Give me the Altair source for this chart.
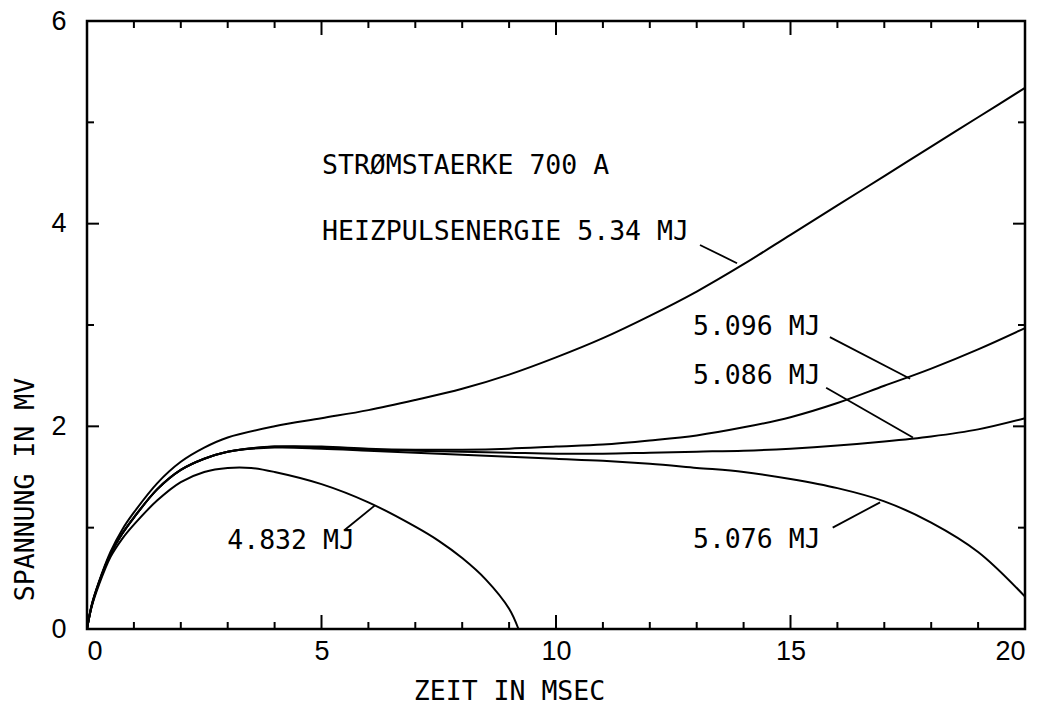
import altair as alt
import pandas as pd

# ---- data ----
X = [0, 0.1, 0.25, 0.5, 0.75, 1, 1.5, 2, 2.5, 3, 4, 5, 6, 7, 8, 9, 10, 11, 12, 13, 14, 15, 16, 17, 18, 19, 20]
E534 = [0, 0.24, 0.46, 0.76, 0.98, 1.15, 1.44, 1.65, 1.79, 1.89, 2.00, 2.08, 2.16, 2.26, 2.37, 2.51, 2.68, 2.87, 3.09, 3.33, 3.60, 3.89, 4.18, 4.47, 4.76, 5.05, 5.34]
E5096 = [0, 0.23, 0.45, 0.74, 0.94, 1.10, 1.38, 1.57, 1.68, 1.75, 1.80, 1.80, 1.78, 1.77, 1.77, 1.78, 1.80, 1.82, 1.86, 1.91, 1.99, 2.09, 2.23, 2.40, 2.57, 2.76, 2.97]
E5086 = [0, 0.23, 0.45, 0.74, 0.94, 1.10, 1.38, 1.57, 1.68, 1.75, 1.80, 1.79, 1.77, 1.76, 1.75, 1.74, 1.73, 1.73, 1.74, 1.75, 1.76, 1.78, 1.81, 1.85, 1.90, 1.97, 2.08]
E5076 = [0, 0.23, 0.45, 0.74, 0.94, 1.10, 1.38, 1.57, 1.68, 1.75, 1.79, 1.78, 1.76, 1.74, 1.72, 1.70, 1.68, 1.66, 1.63, 1.59, 1.55, 1.48, 1.39, 1.26, 1.05, 0.76, 0.32]
X4832 = [0, 0.1, 0.25, 0.5, 0.75, 1, 1.5, 2, 2.5, 3, 3.5, 4, 5, 6, 7, 7.5, 8, 8.5, 9, 9.2]
E4832 = [0, 0.22, 0.43, 0.71, 0.89, 1.03, 1.27, 1.45, 1.55, 1.59, 1.59, 1.55, 1.43, 1.25, 1.01, 0.87, 0.70, 0.49, 0.20, 0.0]

LABEL_TEXT = ["STRØMSTAERKE 700 A", "HEIZPULSENERGIE 5.34 MJ", "5.096 MJ", "5.086 MJ", "5.076 MJ", "4.832 MJ"]
LABEL_X = [5.01, 5.01, 12.92, 12.92, 12.92, 2.99]
LABEL_Y = [4.57, 3.92, 2.98, 2.50, 0.88, 0.87]

LEAD_X1 = [13.07, 15.84, 15.76, 15.90, 5.50]
LEAD_Y1 = [3.79, 2.88, 2.38, 1.00, 0.98]
LEAD_X2 = [13.86, 17.55, 17.61, 16.91, 6.14]
LEAD_Y2 = [3.61, 2.47, 1.89, 1.25, 1.22]

X_MAJOR = [5, 10, 15]
X_MINOR = [1, 2, 3, 4, 6, 7, 8, 9, 11, 12, 13, 14, 16, 17, 18, 19]
Y_MAJOR = [2, 4]
Y_MINOR = [1, 3, 5]
X_TICKS = [0, 5, 10, 15, 20]
Y_TICKS = [0, 2, 4, 6]

# ---- tables ----
rows = []
for name, ys in [("5.34", E534), ("5.096", E5096), ("5.086", E5086), ("5.076", E5076)]:
    for xv, yv in zip(X, ys):
        rows.append({"curve": name, "t": xv, "u": yv})
for xv, yv in zip(X4832, E4832):
    rows.append({"curve": "4.832", "t": xv, "u": yv})
curves = pd.DataFrame(rows)
labels = pd.DataFrame({"text": LABEL_TEXT, "t": LABEL_X, "u": LABEL_Y})
leads = pd.DataFrame({"t": LEAD_X1, "u": LEAD_Y1, "t2": LEAD_X2, "u2": LEAD_Y2})
xmaj = pd.DataFrame({"t": X_MAJOR})
xmin = pd.DataFrame({"t": X_MINOR})
ymaj = pd.DataFrame({"u": Y_MAJOR})
ymin = pd.DataFrame({"u": Y_MINOR})

W, H = 938, 608
FONT = "DejaVu Sans Mono"

xs = alt.Scale(domain=[0, 20], nice=False)
ys_ = alt.Scale(domain=[0, 6], nice=False)

xaxis = alt.Axis(values=X_TICKS, format="d", ticks=False, domain=False, grid=False, labelPadding=9,
                 labelFont="Liberation Sans", labelFontSize=27, labelColor="black",
                 title="ZEIT IN MSEC", titleFont=FONT, titleFontSize=26.5, titleFontWeight="normal",
                 titleColor="black", titleX=422, titleY=62, titleAlign="center", titleBaseline="middle")
yaxis = alt.Axis(values=Y_TICKS, format="d", ticks=False, domain=False, grid=False, labelPadding=21,
                 labelFont="Liberation Sans", labelFontSize=27, labelColor="black",
                 labelBaseline="middle",
                 title="SPANNUNG IN MV", titleFont=FONT, titleFontSize=26.5, titleFontWeight="normal",
                 titleColor="black", titleX=-62, titleY=468, titleAngle=270,
                 titleAlign="center", titleBaseline="middle")

lines = alt.Chart(curves).mark_line(color="black", strokeWidth=2, interpolate="catmull-rom").encode(
    x=alt.X("t:Q", scale=xs, axis=xaxis),
    y=alt.Y("u:Q", scale=ys_, axis=yaxis),
    detail="curve:N",
)

text = alt.Chart(labels).mark_text(align="left", baseline="middle", font=FONT, fontSize=26.5,
                                    color="black").encode(
    x=alt.X("t:Q", scale=xs), y=alt.Y("u:Q", scale=ys_), text="text:N")

leader = alt.Chart(leads).mark_rule(color="black", strokeWidth=1.8).encode(
    x=alt.X("t:Q", scale=xs), y=alt.Y("u:Q", scale=ys_), x2="t2:Q", y2="u2:Q")

def xt(df, length, top):
    if top:
        return alt.Chart(df).mark_rule(color="black", strokeWidth=2).encode(
            x=alt.X("t:Q", scale=xs), y=alt.value(0), y2=alt.value(length))
    return alt.Chart(df).mark_rule(color="black", strokeWidth=2).encode(
        x=alt.X("t:Q", scale=xs), y=alt.value(H), y2=alt.value(H - length))

def yt(df, length, right):
    if right:
        return alt.Chart(df).mark_rule(color="black", strokeWidth=2).encode(
            y=alt.Y("u:Q", scale=ys_), x=alt.value(W), x2=alt.value(W - length))
    return alt.Chart(df).mark_rule(color="black", strokeWidth=2).encode(
        y=alt.Y("u:Q", scale=ys_), x=alt.value(0), x2=alt.value(length))

ticks = [xt(xmaj, 14, False), xt(xmin, 7, False), xt(xmaj, 14, True), xt(xmin, 7, True),
         yt(ymaj, 12, False), yt(ymin, 7, False), yt(ymaj, 12, True), yt(ymin, 7, True)]

chart = alt.layer(lines, leader, text, *ticks).properties(
    width=W, height=H,
    autosize=alt.AutoSizeParams(type="none"),
    padding={"left": 87, "top": 21, "right": 20, "bottom": 77},
    background="white",
).configure_view(stroke="black", strokeWidth=2.5)

chart.save("out.html", embed_options={"renderer": "svg", "actions": False})
